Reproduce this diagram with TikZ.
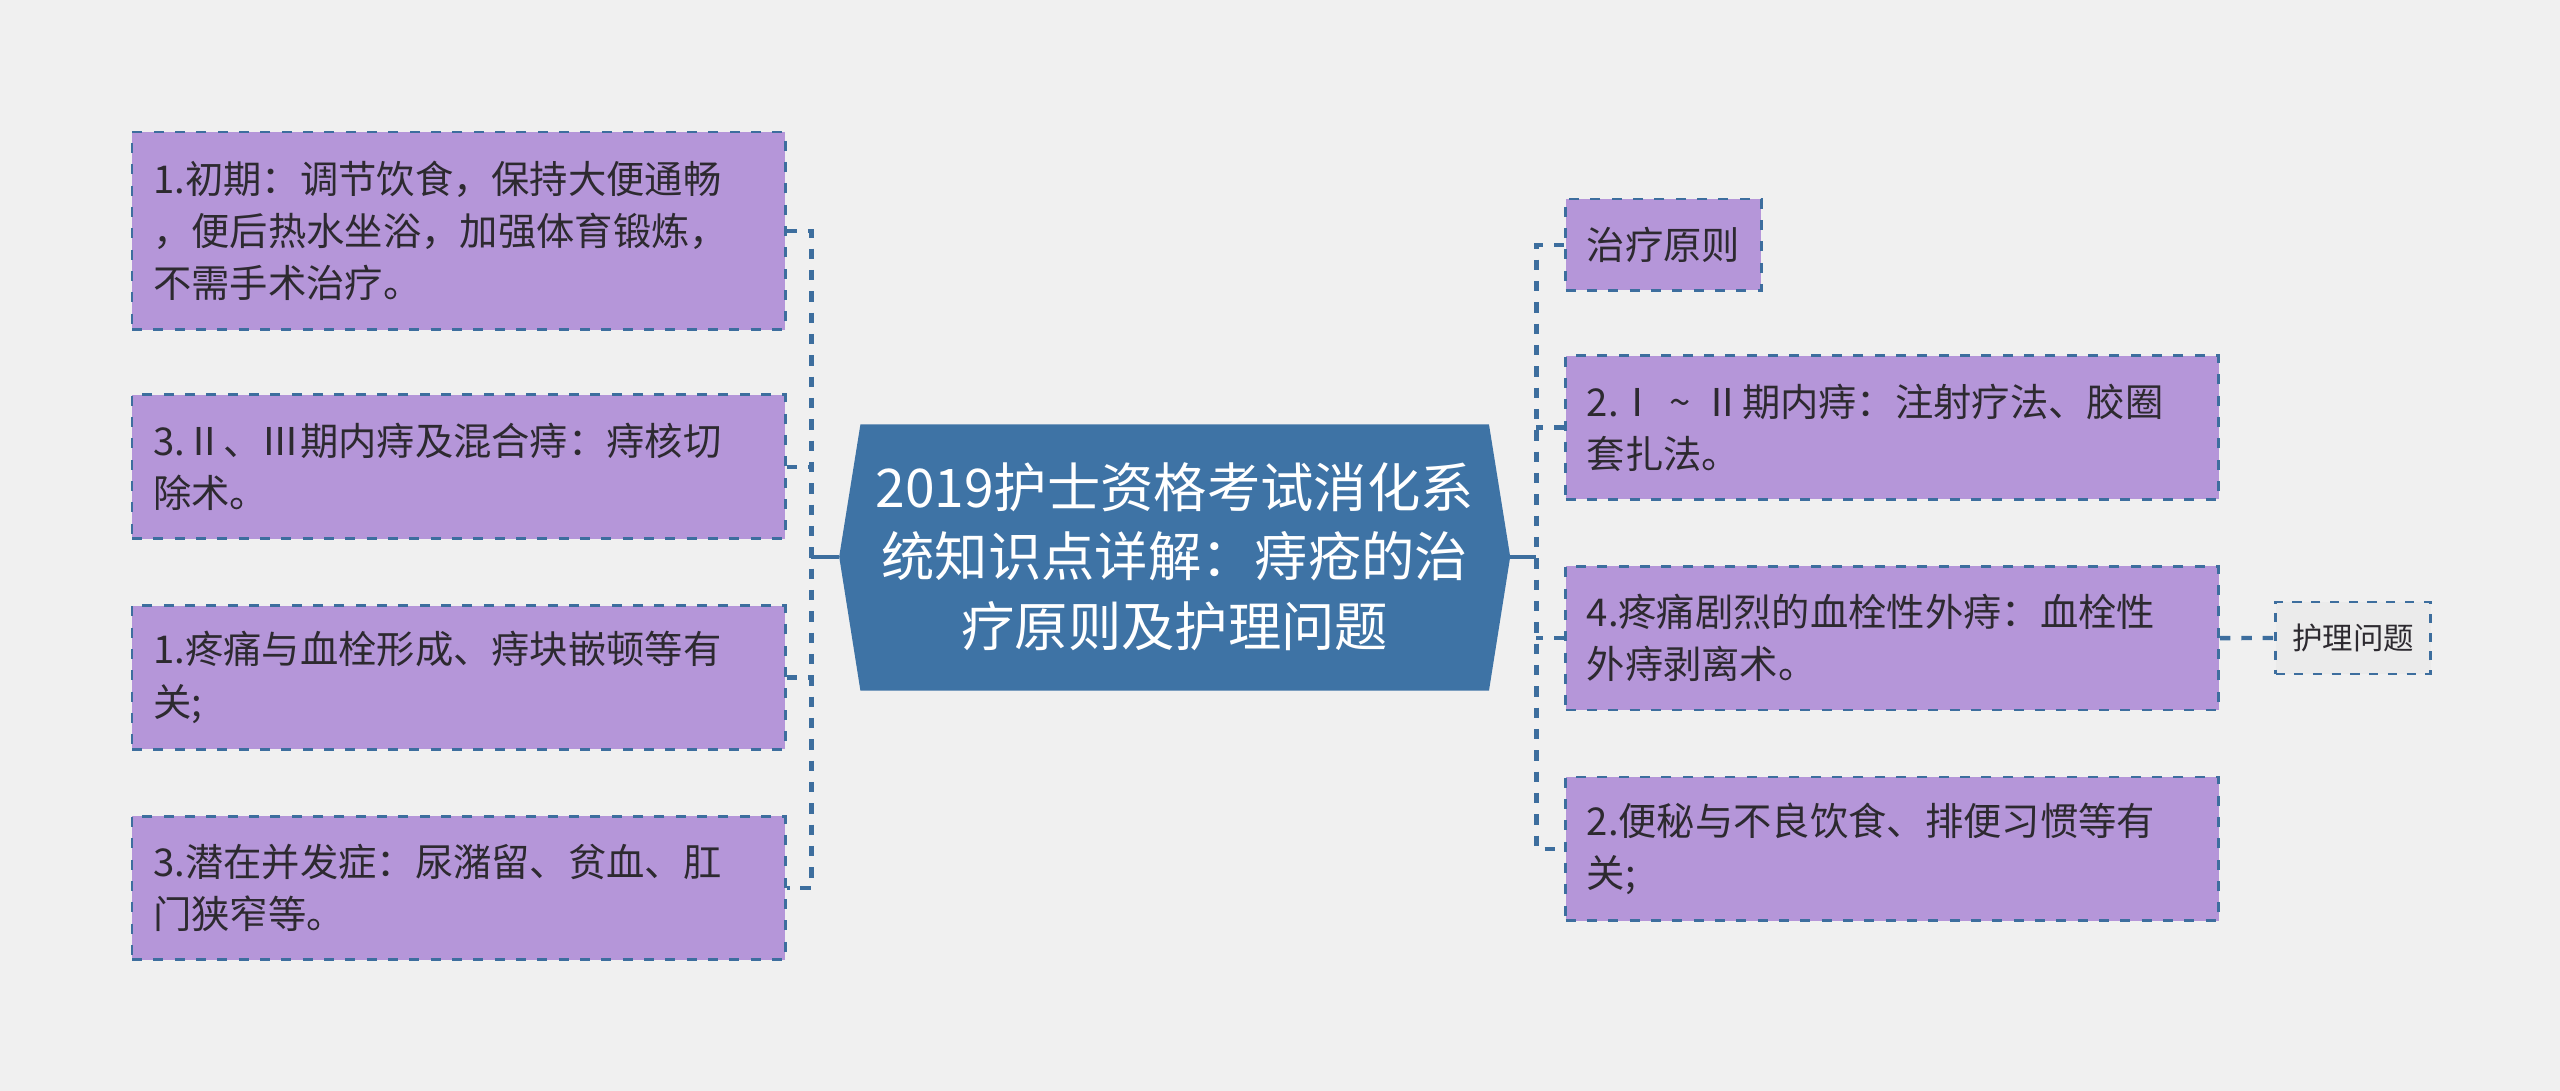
\documentclass[tikz,border=0pt]{standalone}
\usepackage{fontspec}
\setmainfont{Noto Sans CJK SC}
\definecolor{bg}{HTML}{F0F0F0}
\definecolor{boxfill}{HTML}{B596D9}
\definecolor{bord}{HTML}{3D6E9E}
\definecolor{centerfill}{HTML}{3E73A5}
\definecolor{txt}{HTML}{2D2A30}
\definecolor{leaffill}{HTML}{EBEBEB}
\begin{document}
\begin{tikzpicture}[x=0.75pt,y=-0.75pt,
  box/.style={draw=bord, fill=boxfill, line width=1.3pt, dash pattern=on 4.6pt off 5.2pt,
    anchor=north west, inner xsep=9.75pt, inner ysep=0pt, text width=280.5pt, align=left,
    text=txt, font=\fontsize{17.6}{24}\selectfont},
  smallbox/.style={draw=bord, fill=boxfill, line width=1.3pt, dash pattern=on 4.6pt off 5.2pt,
    anchor=north west, inner xsep=9.75pt, inner ysep=0pt, minimum height=42pt,
    text=txt, font=\fontsize{17.6}{24}\selectfont},
  leaf/.style={draw=bord, fill=leaffill, line width=1.1pt, dash pattern=on 4.2pt off 4.4pt,
    anchor=north west, inner xsep=7.6pt, inner ysep=0pt, minimum height=33pt,
    text=txt, font=\fontsize{14}{18}\selectfont},
  conn/.style={draw=bord, line width=2pt, dash pattern=on 4.8pt off 5pt},
  solidconn/.style={draw=bord, line width=2pt}
]
\useasboundingbox[fill=bg] (0,0) rectangle (1568,668);

% center shape
\fill[centerfill] (527,260) -- (912,260) -- (925,341) -- (912,423) -- (527,423) -- (514,341) -- cycle;
\coordinate (cL) at (514,341);
\coordinate (cR) at (925,341);
\node[text=white, align=center, font=\fontsize{24.5}{32}\selectfont] (c) at (719.5,341)
  {2019护士资格考试消化系\\统知识点详解：痔疮的治\\疗原则及护理问题};

% left boxes
\node[box, minimum height=90.75pt] (L1) at (80,80) {1.初期：调节饮食，保持大便通畅\\，便后热水坐浴，加强体育锻炼，\\不需手术治疗。};
\node[box, minimum height=66pt] (L2) at (80,241) {3.Ⅱ、Ⅲ期内痔及混合痔：痔核切\\除术。};
\node[box, minimum height=66pt] (L3) at (80,370) {1.疼痛与血栓形成、痔块嵌顿等有\\关;};
\node[box, minimum height=66pt] (L4) at (80,499) {3.潜在并发症：尿潴留、贫血、肛\\门狭窄等。};

% right boxes
\node[smallbox] (R1) at (958,121) {治疗原则};
\node[box, minimum height=66pt] (R2) at (958,217) {2.Ⅰ \char"007E\ Ⅱ期内痔：注射疗法、胶圈\\套扎法。};
\node[box, minimum height=66pt] (R3) at (958,346) {4.疼痛剧烈的血栓性外痔：血栓性\\外痔剥离术。};
\node[box, minimum height=66pt] (R4) at (958,475) {2.便秘与不良饮食、排便习惯等有\\关;};
\node[leaf] (R5) at (1393,368) {护理问题};

% left connectors
\coordinate (tL) at (497,341);
\draw[solidconn] (cL) -- (tL);
\draw[conn] (L1.east) -- (L1.east -| tL) -- (L4.east -| tL) -- (L4.east);
\draw[conn] (L2.east) -- (L2.east -| tL);
\draw[conn] (L3.east) -- (L3.east -| tL);

% right connectors
\coordinate (tR) at (941,341);
\draw[solidconn] (cR) -- (tR);
\draw[conn] (R1.west) -- (R1.west -| tR) -- (R4.west -| tR) -- (R4.west);
\draw[conn] (R2.west) -- (R2.west -| tR);
\draw[conn] (R3.west) -- (R3.west -| tR);
\draw[conn] (R3.east) -- (R5.west);
\end{tikzpicture}
\end{document}
